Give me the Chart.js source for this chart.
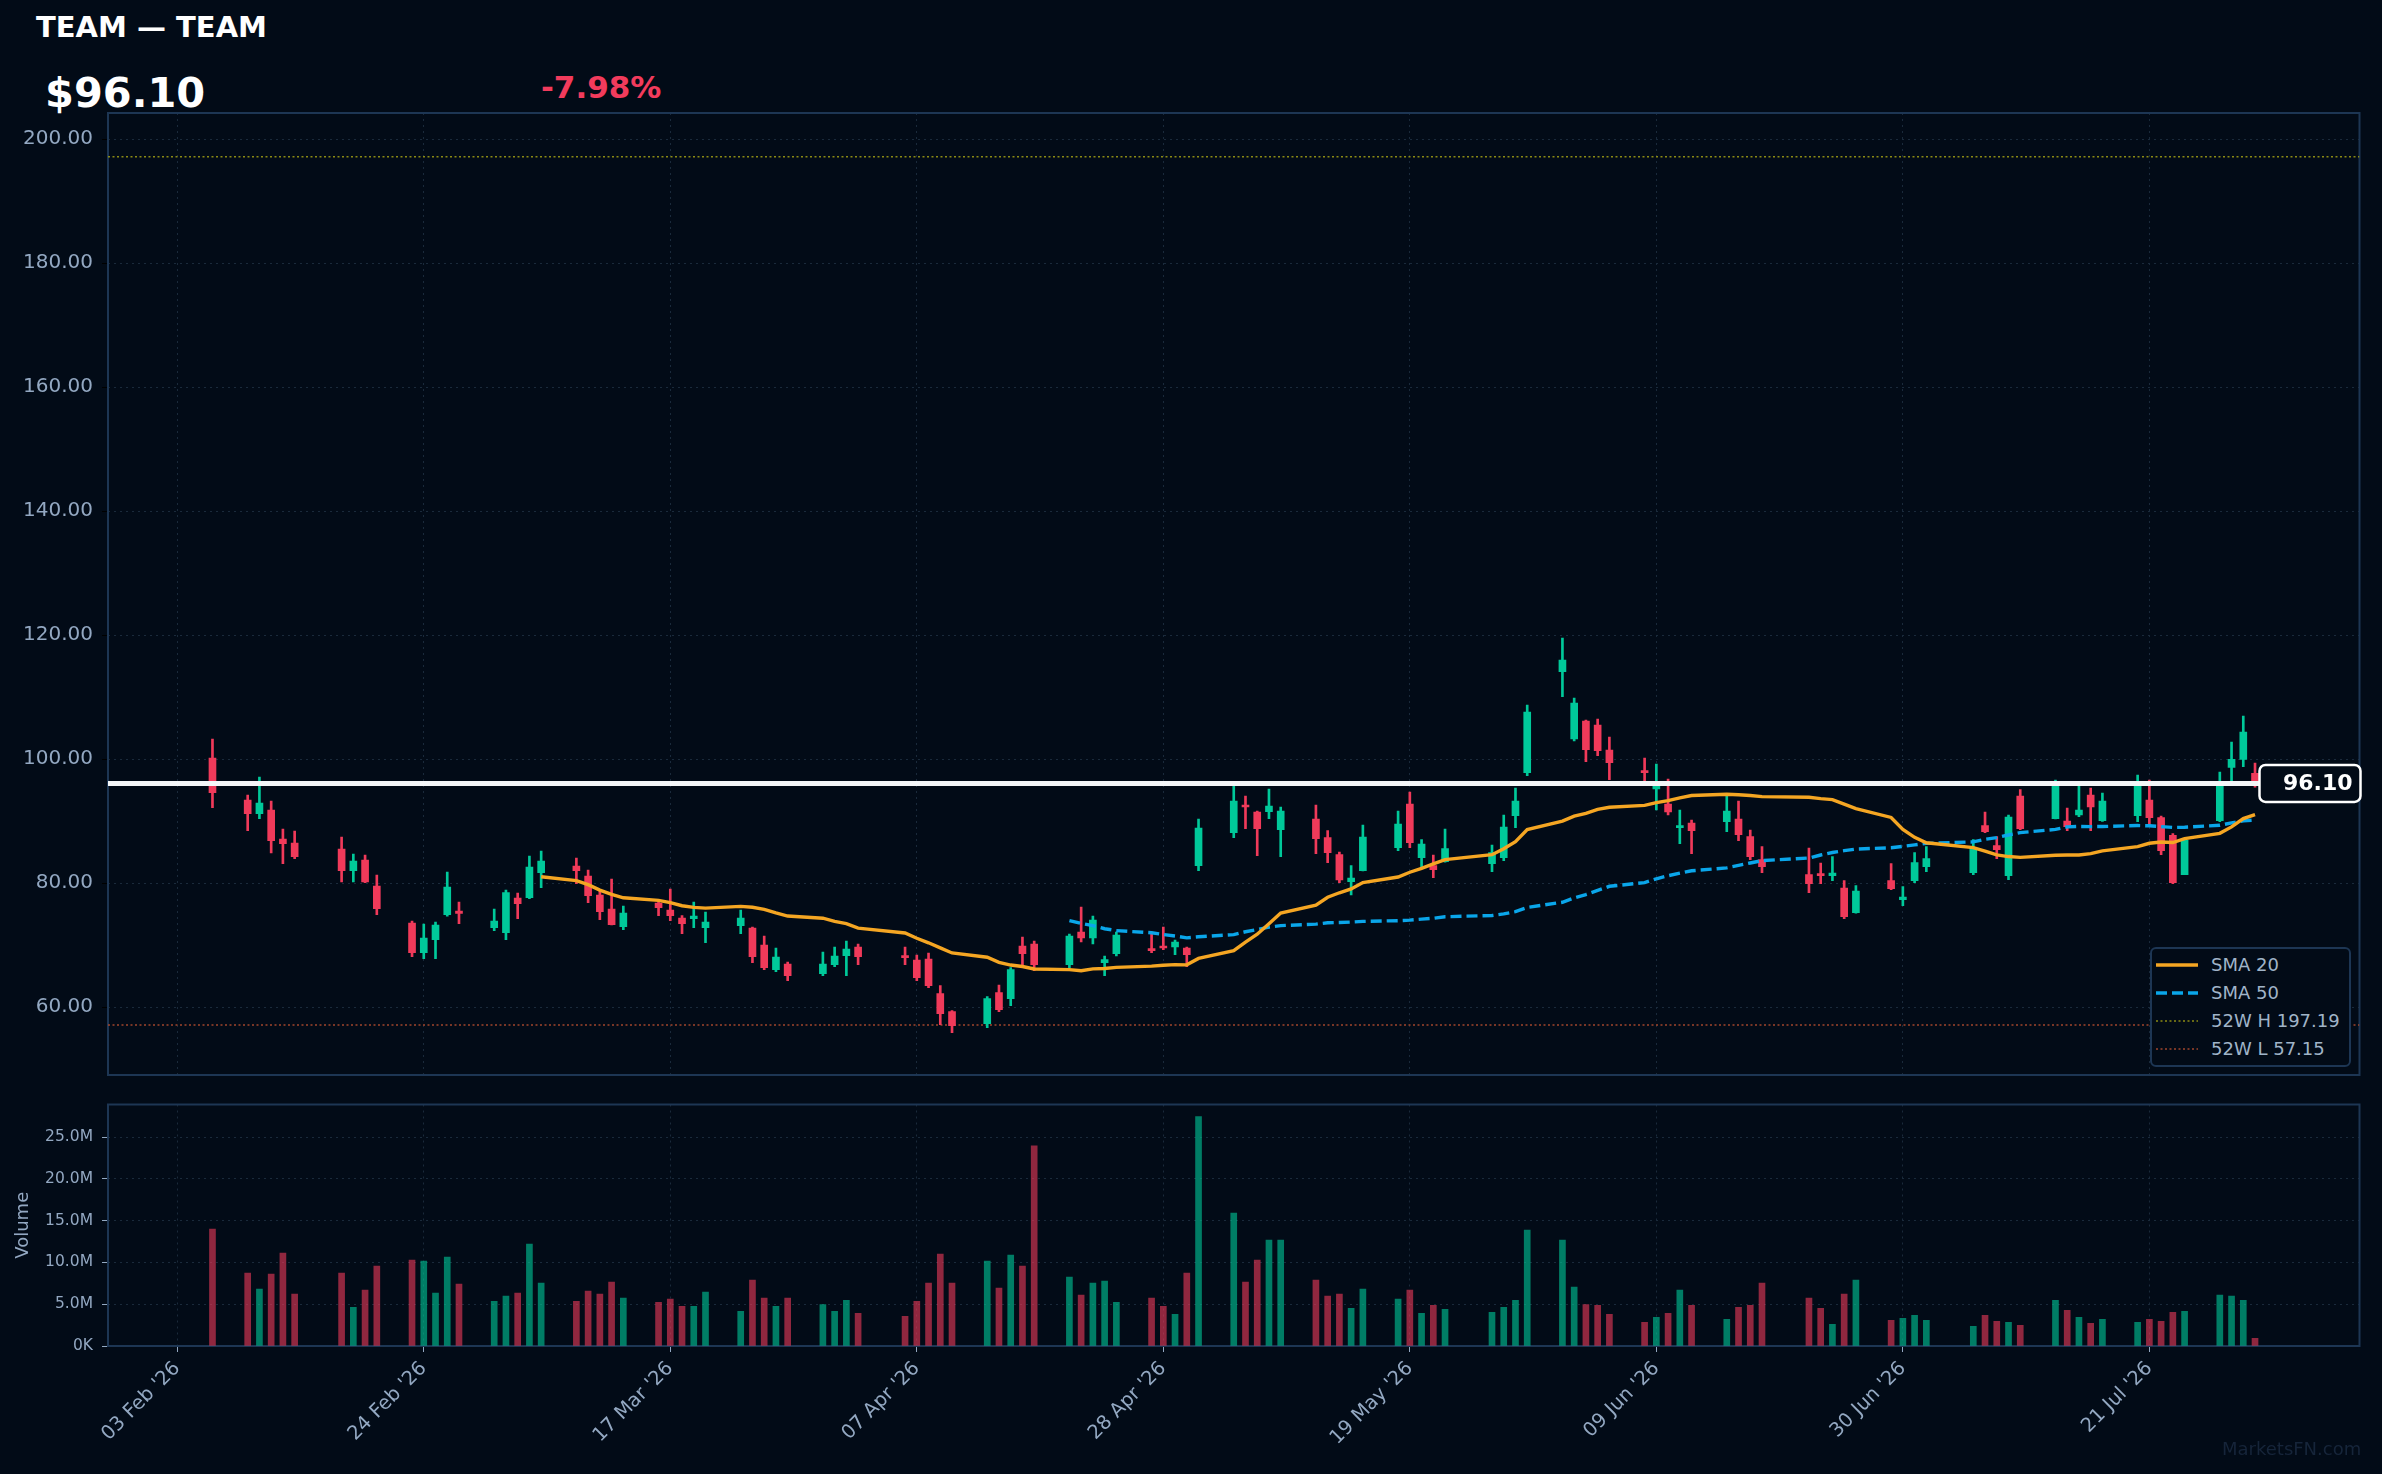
<!DOCTYPE html>
<html>
<head>
<meta charset="utf-8">
<script src="https://cdn.jsdelivr.net/npm/chart.js@4.4.1/dist/chart.umd.min.js"></script>
<style>
  html, body { margin: 0; padding: 0; background: #020b17; }
  #wrap { position: relative; width: 2382px; height: 1474px; overflow: hidden; font-family: "DejaVu Sans", sans-serif; }
  canvas { position: absolute; left: 0; top: 0; }
  .hdr { position: absolute; line-height: 1; font-weight: bold; white-space: nowrap; }
  #legend { position: absolute; left: 2150px; top: 947px; width: 201px; height: 120px; box-sizing: border-box;
            border: 2px solid #1d3654; border-radius: 6px; background: #020b17; z-index: 3; }
  #legend .row { position: absolute; left: 4px; height: 28px; display: flex; align-items: center; }
  #legend .row span { position: absolute; left: 55px; font-size: 18px; color: #a0b4c8; white-space: nowrap; line-height: 28px; }
  #wm { position: absolute; left: 2222px; top: 1440px; font-size: 18px; line-height: 1; color: #16253a; }
</style>
</head>
<body>
<div id="wrap">
  <div class="hdr" style="left:36px;top:13px;font-size:29px;color:#ffffff;">TEAM — TEAM</div>
  <div class="hdr" style="left:45px;top:72px;font-size:41.5px;color:#ffffff;">$96.10</div>
  <div class="hdr" style="left:541px;top:72px;font-size:31px;color:#f23b5c;">-7.98%</div>
  <canvas id="priceChart" width="2382" height="1474"></canvas>
  <canvas id="volChart" width="2382" height="1474"></canvas>
  <div id="legend">
    <div class="row" style="top:2px;"><svg width="44" height="10"><line x1="0" y1="5" x2="42" y2="5" stroke="#f5a623" stroke-width="3.6"/></svg><span>SMA 20</span></div>
    <div class="row" style="top:30px;"><svg width="44" height="10"><line x1="0" y1="5" x2="42" y2="5" stroke="#0aa6ea" stroke-width="3.6" stroke-dasharray="11 5"/></svg><span>SMA 50</span></div>
    <div class="row" style="top:58px;"><svg width="44" height="10"><line x1="0" y1="5" x2="42" y2="5" stroke="#8a8a14" stroke-width="1.6" stroke-dasharray="2 2.5"/></svg><span>52W H 197.19</span></div>
    <div class="row" style="top:86px;"><svg width="44" height="10"><line x1="0" y1="5" x2="42" y2="5" stroke="#a0452c" stroke-width="1.6" stroke-dasharray="2 2.5"/></svg><span>52W L 57.15</span></div>
  </div>
  <div id="wm">MarketsFN.com</div>
</div>
<script>
// trading days shown
const dates = [
  '2026-02-06',
  '2026-02-09','2026-02-10','2026-02-11','2026-02-12','2026-02-13',
  '2026-02-17','2026-02-18','2026-02-19','2026-02-20',
  '2026-02-23','2026-02-24','2026-02-25','2026-02-26','2026-02-27',
  '2026-03-02','2026-03-03','2026-03-04','2026-03-05','2026-03-06',
  '2026-03-09','2026-03-10','2026-03-11','2026-03-12','2026-03-13',
  '2026-03-16','2026-03-17','2026-03-18','2026-03-19','2026-03-20',
  '2026-03-23','2026-03-24','2026-03-25','2026-03-26','2026-03-27',
  '2026-03-30','2026-03-31','2026-04-01','2026-04-02',
  '2026-04-06','2026-04-07','2026-04-08','2026-04-09','2026-04-10',
  '2026-04-13','2026-04-14','2026-04-15','2026-04-16','2026-04-17',
  '2026-04-20','2026-04-21','2026-04-22','2026-04-23','2026-04-24',
  '2026-04-27','2026-04-28','2026-04-29','2026-04-30','2026-05-01',
  '2026-05-04','2026-05-05','2026-05-06','2026-05-07','2026-05-08',
  '2026-05-11','2026-05-12','2026-05-13','2026-05-14','2026-05-15',
  '2026-05-18','2026-05-19','2026-05-20','2026-05-21','2026-05-22',
  '2026-05-26','2026-05-27','2026-05-28','2026-05-29',
  '2026-06-01','2026-06-02','2026-06-03','2026-06-04','2026-06-05',
  '2026-06-08','2026-06-09','2026-06-10','2026-06-11','2026-06-12',
  '2026-06-15','2026-06-16','2026-06-17','2026-06-18',
  '2026-06-22','2026-06-23','2026-06-24','2026-06-25','2026-06-26',
  '2026-06-29','2026-06-30','2026-07-01','2026-07-02',
  '2026-07-06','2026-07-07','2026-07-08','2026-07-09','2026-07-10',
  '2026-07-13','2026-07-14','2026-07-15','2026-07-16','2026-07-17',
  '2026-07-20','2026-07-21','2026-07-22','2026-07-23','2026-07-24',
  '2026-07-27','2026-07-28','2026-07-29','2026-07-30'
];

const opens = [
  100.21, 93.43, 91.23, 91.82, 87.15, 86.50, 85.53, 82.04, 83.76, 79.56,
  73.60, 68.81, 70.91, 74.94, 75.53, 72.84, 72.04, 77.63, 77.68, 81.72,
  82.79, 81.18, 78.11, 75.86, 73.00, 76.82, 75.69, 74.40, 74.30, 72.84,
  73.17, 72.79, 70.05, 66.07, 66.98, 65.42, 66.88, 68.33, 69.73, 68.27,
  67.63, 67.79, 62.20, 59.30, 57.36, 62.36, 61.39, 69.89, 70.21, 66.88,
  72.15, 71.18, 67.20, 68.65, 69.46, 69.89, 69.73, 69.56, 82.84, 88.17,
  92.47, 91.50, 91.55, 88.65, 90.37, 87.36, 84.62, 80.26, 82.04, 85.75,
  92.79, 84.13, 82.84, 83.49, 83.17, 84.13, 90.91, 97.84, 114.13, 103.27,
  106.18, 105.53, 101.50, 98.11, 95.21, 92.79, 88.97, 89.73, 89.94, 90.37,
  87.52, 83.81, 81.40, 81.56, 81.23, 79.24, 75.26, 80.42, 77.36, 80.42,
  82.68, 81.72, 89.30, 86.07, 81.23, 94.08, 90.42, 90.05, 91.02, 94.24,
  90.10, 90.91, 93.43, 90.59, 87.74, 81.40, 90.10, 98.70, 99.99, 97.74
];
const highs = [
  103.27, 94.24, 97.15, 93.27, 88.76, 88.43, 87.47, 84.73, 84.56, 81.34,
  73.92, 73.43, 73.76, 81.82, 76.98, 75.86, 78.92, 78.44, 84.40, 85.21,
  84.08, 82.15, 78.92, 80.69, 76.34, 77.31, 79.08, 74.78, 76.98, 75.37,
  75.69, 72.95, 71.50, 69.56, 67.31, 68.92, 69.73, 70.69, 70.21, 69.73,
  68.43, 68.76, 63.49, 59.46, 61.71, 63.60, 66.39, 71.34, 70.69, 71.82,
  76.18, 74.73, 68.27, 72.15, 72.15, 72.95, 70.85, 69.73, 90.37, 95.69,
  94.08, 91.66, 95.21, 92.31, 92.63, 88.49, 85.05, 82.84, 89.40, 91.66,
  94.73, 87.04, 84.56, 88.76, 86.18, 91.02, 95.37, 108.76, 119.56, 109.89,
  106.34, 106.50, 103.60, 100.21, 99.24, 96.82, 91.82, 90.21, 94.14, 93.27,
  88.60, 85.91, 85.69, 83.27, 84.30, 80.42, 79.62, 83.17, 79.46, 84.94,
  85.91, 87.04, 91.50, 87.52, 91.02, 95.10, 96.66, 92.15, 95.69, 95.37,
  94.56, 97.47, 96.66, 90.85, 88.01, 87.09, 97.95, 102.79, 106.98, 99.40
];
const lows = [
  92.20, 88.49, 90.42, 84.89, 83.17, 83.97, 80.21, 80.21, 80.10, 74.94,
  68.17, 67.85, 67.85, 74.70, 73.49, 72.36, 70.91, 74.30, 77.50, 79.30,
  79.94, 76.88, 74.13, 73.30, 72.52, 74.78, 73.97, 71.88, 72.84, 70.42,
  71.88, 67.20, 66.07, 65.75, 64.29, 65.10, 66.55, 65.10, 66.88, 66.88,
  64.29, 63.17, 57.20, 55.91, 56.72, 59.30, 60.26, 66.88, 65.91, 66.39,
  70.53, 70.21, 65.10, 68.27, 68.81, 69.30, 68.49, 66.55, 82.04, 87.36,
  88.81, 84.46, 90.42, 84.30, 84.78, 83.33, 80.10, 78.11, 82.00, 85.26,
  85.75, 82.68, 80.91, 83.40, 81.88, 83.65, 88.97, 97.36, 110.10, 102.95,
  99.62, 100.59, 96.72, 96.00, 91.82, 91.02, 86.39, 84.78, 88.33, 86.88,
  83.81, 81.72, 78.49, 79.94, 80.42, 74.30, 75.20, 78.97, 76.39, 80.10,
  81.88, 81.40, 88.17, 83.97, 80.58, 88.65, 90.40, 88.49, 90.75, 88.49,
  89.99, 89.94, 89.13, 84.62, 79.94, 81.40, 89.94, 96.39, 98.81, 95.50
];
const closes = [
  94.62, 91.23, 92.95, 86.88, 86.39, 84.30, 82.04, 83.60, 80.21, 75.91,
  68.81, 71.18, 73.27, 79.40, 75.16, 73.92, 78.49, 76.72, 82.63, 83.60,
  82.04, 78.01, 75.42, 73.33, 75.21, 76.07, 74.78, 73.49, 74.73, 73.76,
  74.40, 68.17, 66.39, 68.11, 65.10, 66.98, 68.27, 69.40, 68.17, 68.00,
  64.78, 63.49, 58.97, 57.04, 61.39, 59.62, 66.07, 68.65, 66.88, 71.50,
  71.18, 74.08, 67.68, 71.66, 69.13, 69.56, 70.53, 68.49, 88.92, 93.27,
  92.31, 88.81, 92.47, 91.66, 87.20, 84.94, 80.53, 80.85, 87.47, 89.56,
  86.55, 86.34, 82.20, 85.59, 84.94, 89.08, 93.27, 107.63, 116.02, 109.08,
  101.55, 101.39, 99.46, 97.84, 95.86, 91.50, 89.30, 88.49, 91.66, 87.85,
  84.30, 82.68, 79.94, 81.23, 81.66, 74.62, 78.76, 79.13, 77.79, 83.33,
  83.97, 85.59, 88.33, 85.42, 90.69, 88.81, 96.30, 89.13, 91.82, 92.31,
  93.27, 96.30, 90.59, 85.26, 80.10, 86.99, 96.00, 99.99, 104.40, 96.10
];
// volume, millions of shares
const volumes = [
  14.00, 8.72, 6.80, 8.60, 11.12, 6.20, 8.72, 4.64, 6.68, 9.56,
  10.28, 10.16, 6.32, 10.64, 7.40, 5.36, 5.96, 6.32, 12.20, 7.52,
  5.36, 6.56, 6.20, 7.64, 5.72, 5.24, 5.60, 4.76, 4.76, 6.44,
  4.16, 7.88, 5.72, 4.76, 5.72, 4.96, 4.16, 5.48, 3.92, 3.56,
  5.36, 7.52, 11.00, 7.52, 10.16, 6.92, 10.88, 9.56, 23.96, 8.24,
  6.08, 7.52, 7.76, 5.24, 5.72, 4.76, 3.80, 8.72, 27.44, 15.92,
  7.64, 10.28, 12.68, 12.68, 7.88, 5.96, 6.20, 4.52, 6.80, 5.60,
  6.68, 3.92, 4.88, 4.40, 4.04, 4.64, 5.48, 13.88, 12.68, 7.04,
  4.96, 4.88, 3.80, 2.84, 3.44, 3.92, 6.68, 4.88, 3.20, 4.64,
  4.88, 7.52, 5.72, 4.52, 2.60, 6.20, 7.88, 3.08, 3.32, 3.68,
  3.08, 2.36, 3.68, 2.96, 2.84, 2.48, 5.48, 4.28, 3.44, 2.72,
  3.20, 2.84, 3.20, 2.96, 4.04, 4.16, 6.08, 5.96, 5.48, 0.92
];

const tickDates = ['2026-02-03','2026-02-24','2026-03-17','2026-04-07','2026-04-28','2026-05-19','2026-06-09','2026-06-30','2026-07-21'];
const tickLabels = ["03 Feb '26","24 Feb '26","17 Mar '26","07 Apr '26","28 Apr '26","19 May '26","09 Jun '26","30 Jun '26","21 Jul '26"];
const priceTicks = [60, 80, 100, 120, 140, 160, 180, 200];
const volumeTicks = [0, 5, 10, 15, 20, 25];

const LAST_PRICE = 96.10;
const HIGH_52W = 197.19;
const LOW_52W = 57.15;

// axis ranges (days from 03 Feb)
const X_MIN = -5.9, X_MAX = 185.9;
const Y_MIN = 49.08, Y_MAX = 204.24;
const VOL_MAX = 28.9;

const BG = '#020b17';
const UP = '#00c99a';
const DOWN = '#f03a5a';
const VOL_UP = 'rgba(0, 201, 154, 0.6)';
const VOL_DOWN = 'rgba(240, 58, 90, 0.6)';
const TEXT = '#93a8c2';
const GRID = '#1a2a3b';
const FRAME = '#1d3654';

const DAY0 = Date.UTC(2026, 1, 3);
const dayOf = (s) => (Date.parse(s + 'T00:00:00Z') - DAY0) / 86400000;
const xs = dates.map(dayOf);
const tickXs = tickDates.map(dayOf);

function sma(n) {
    return closes.map((c, i) => {
        if (i < n - 1) return null;
        let s = 0;
        for (let k = i - n + 1; k <= i; k++) s += closes[k];
        return s / n;
    });
}
const sma20 = sma(20);
const sma50 = sma(50);

const candleColors = closes.map((c, i) => c >= opens[i] ? UP : DOWN);
const volColors = closes.map((c, i) => c >= opens[i] ? VOL_UP : VOL_DOWN);

const flatLine = (v) => [{ x: X_MIN, y: v }, { x: X_MAX, y: v }];

Chart.defaults.font.family = '"DejaVu Sans", sans-serif';
Chart.defaults.color = TEXT;

const frame = {
    id: 'frame',
    beforeDatasetsDraw(chart) {
        const { ctx, chartArea: a } = chart;
        ctx.save();
        ctx.strokeStyle = FRAME;
        ctx.lineWidth = 2;
        ctx.strokeRect(a.left, a.top, a.right - a.left, a.bottom - a.top);
        ctx.restore();
    }
};

const priceTag = {
    id: 'priceTag',
    afterDatasetsDraw(chart) {
        const { ctx, chartArea: a, scales } = chart;
        const y = scales.y.getPixelForValue(LAST_PRICE);
        const w = 101, h = 37;
        ctx.save();
        ctx.beginPath();
        ctx.roundRect(a.right - w + 1, y - h / 2, w, h, 6);
        ctx.fillStyle = BG;
        ctx.fill();
        ctx.lineWidth = 2.5;
        ctx.strokeStyle = '#ffffff';
        ctx.stroke();
        ctx.fillStyle = '#ffffff';
        ctx.font = 'bold 22px "DejaVu Sans"';
        ctx.textAlign = 'right';
        ctx.textBaseline = 'middle';
        ctx.fillText(LAST_PRICE.toFixed(2), a.right - 7, y + 1);
        ctx.restore();
    }
};

const xScaleBase = {
    type: 'linear',
    min: X_MIN,
    max: X_MAX,
    offset: false,
    afterBuildTicks: (s) => { s.ticks = tickXs.map(v => ({ value: v })); },
    border: { display: false, dash: [2, 4] }
};

new Chart(document.getElementById('priceChart'), {
    type: 'bar',
    data: {
        datasets: [
            {
                label: 'wicks',
                data: xs.map((x, i) => ({ x, y: [lows[i], highs[i]] })),
                backgroundColor: candleColors,
                barThickness: 2,
                grouped: false,
                order: 7
            },
            {
                label: 'bodies',
                data: xs.map((x, i) => ({ x, y: [opens[i], closes[i]] })),
                backgroundColor: candleColors,
                barThickness: 7,
                minBarLength: 2,
                grouped: false,
                order: 6
            },
            {
                type: 'line', label: '52W H',
                data: flatLine(HIGH_52W),
                borderColor: '#8a8a14', borderWidth: 1.6, borderDash: [2, 2.5],
                pointRadius: 0, order: 8
            },
            {
                type: 'line', label: '52W L',
                data: flatLine(LOW_52W),
                borderColor: '#a0452c', borderWidth: 1.6, borderDash: [2, 2.5],
                pointRadius: 0, order: 8
            },
            {
                type: 'line', label: 'SMA 50',
                data: xs.map((x, i) => ({ x, y: sma50[i] })),
                borderColor: '#0aa6ea', borderWidth: 3.4, borderDash: [11, 5],
                pointRadius: 0, tension: 0, order: 4
            },
            {
                type: 'line', label: 'SMA 20',
                data: xs.map((x, i) => ({ x, y: sma20[i] })),
                borderColor: '#f5a623', borderWidth: 3.4,
                pointRadius: 0, tension: 0, order: 3
            },
            {
                type: 'line', label: 'Last',
                data: flatLine(LAST_PRICE),
                borderColor: '#f4f6f8', borderWidth: 5,
                pointRadius: 0, order: 2
            }
        ]
    },
    options: {
        responsive: false,
        animation: false,
        devicePixelRatio: 1,
        layout: { padding: { left: 0, right: 22.5, top: 113, bottom: 399 } },
        plugins: { legend: { display: false }, tooltip: { enabled: false } },
        scales: {
            x: {
                ...xScaleBase,
                ticks: { display: false },
                grid: { color: GRID, lineWidth: 1, drawTicks: false, offset: false },
                afterFit: (s) => { s.height = 0; }
            },
            y: {
                type: 'linear',
                min: Y_MIN,
                max: Y_MAX,
                afterBuildTicks: (s) => { s.ticks = priceTicks.map(v => ({ value: v })); },
                afterFit: (s) => { s.width = 108; },
                ticks: {
                    color: TEXT,
                    font: { size: 20 },
                    padding: 9,
                    callback: (v) => Number(v).toFixed(2)
                },
                grid: { color: GRID, lineWidth: 1, tickLength: 6, tickColor: '#000000' },
                border: { display: false, dash: [2, 4] }
            }
        }
    },
    plugins: [frame, priceTag]
});

new Chart(document.getElementById('volChart'), {
    type: 'bar',
    data: {
        datasets: [{
            label: 'Volume',
            data: xs.map((x, i) => ({ x, y: volumes[i] })),
            backgroundColor: volColors,
            barThickness: 6,
            grouped: false
        }]
    },
    options: {
        responsive: false,
        animation: false,
        devicePixelRatio: 1,
        layout: { padding: { left: 0, right: 22.5, top: 1104.5, bottom: 0 } },
        plugins: { legend: { display: false }, tooltip: { enabled: false } },
        scales: {
            x: {
                ...xScaleBase,
                afterFit: (s) => { s.height = 128; },
                ticks: {
                    color: TEXT,
                    font: { size: 19.5 },
                    maxRotation: 45,
                    minRotation: 45,
                    autoSkip: false,
                    padding: 5,
                    callback: (v, i) => tickLabels[i]
                },
                grid: { color: GRID, lineWidth: 1, tickLength: 6, tickColor: TEXT, offset: false }
            },
            y: {
                type: 'linear',
                min: 0,
                max: VOL_MAX,
                afterBuildTicks: (s) => { s.ticks = volumeTicks.map(v => ({ value: v })); },
                afterFit: (s) => { s.width = 108; },
                title: {
                    display: true,
                    text: 'Volume',
                    color: TEXT,
                    font: { size: 18 },
                    padding: { top: 13, bottom: 0 }
                },
                ticks: {
                    color: TEXT,
                    font: { size: 15.5 },
                    padding: 9,
                    callback: (v) => v === 0 ? '0K' : Number(v).toFixed(1) + 'M'
                },
                grid: { color: GRID, lineWidth: 1, tickLength: 6, tickColor: TEXT },
                border: { display: false, dash: [2, 4] }
            }
        }
    },
    plugins: [frame]
});
</script>
</body>
</html>
